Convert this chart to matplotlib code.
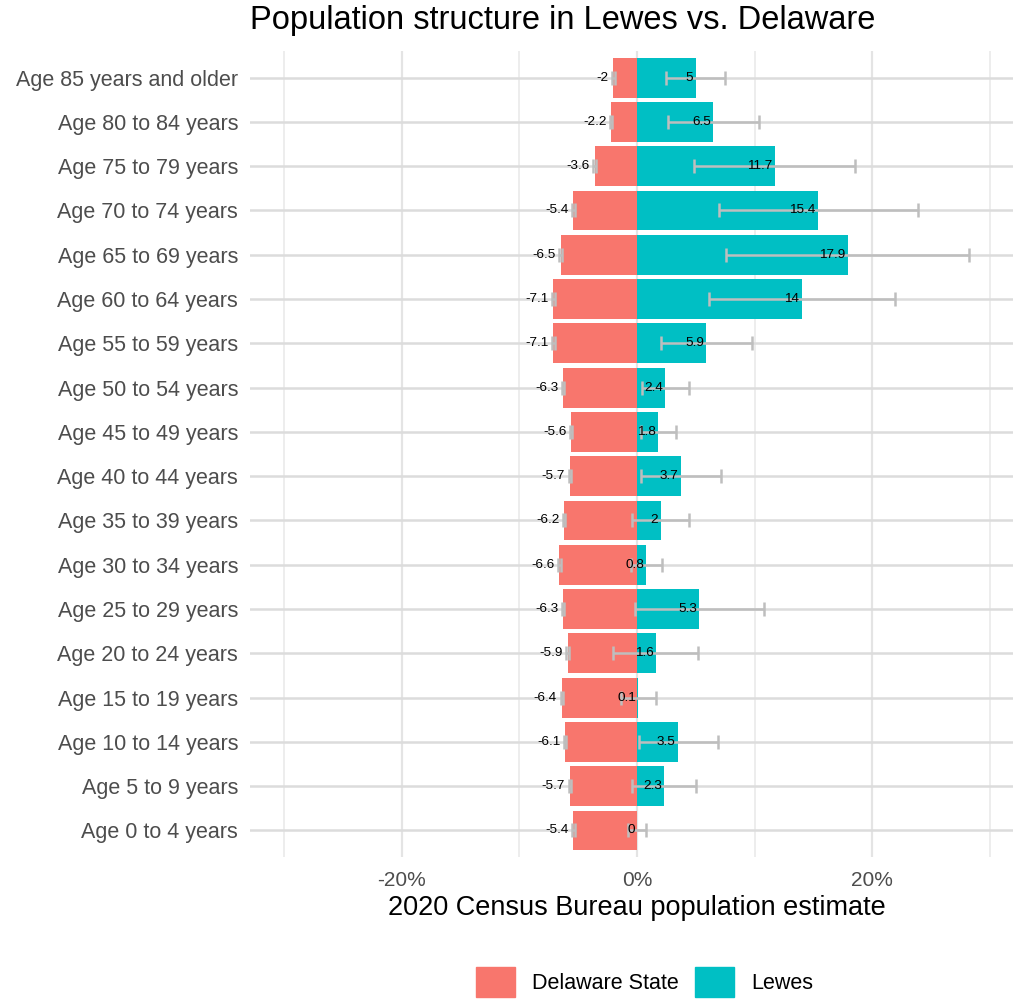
import matplotlib
matplotlib.use("Agg")
import matplotlib.pyplot as plt
from matplotlib.patches import Rectangle
import numpy as np

plt.rcParams['font.family'] = ['Liberation Sans', 'DejaVu Sans']

ages = ["Age 0 to 4 years", "Age 5 to 9 years", "Age 10 to 14 years", "Age 15 to 19 years",
        "Age 20 to 24 years", "Age 25 to 29 years", "Age 30 to 34 years", "Age 35 to 39 years",
        "Age 40 to 44 years", "Age 45 to 49 years", "Age 50 to 54 years", "Age 55 to 59 years",
        "Age 60 to 64 years", "Age 65 to 69 years", "Age 70 to 74 years", "Age 75 to 79 years",
        "Age 80 to 84 years", "Age 85 years and older"]
delaware = [-5.4, -5.7, -6.1, -6.4, -5.9, -6.3, -6.6, -6.2, -5.7, -5.6, -6.3, -7.1, -7.1,
            -6.5, -5.4, -3.6, -2.2, -2.0]
delaware_moe = [0.1] * 18
lewes = [0, 2.3, 3.5, 0.1, 1.6, 5.3, 0.8, 2, 3.7, 1.8, 2.4, 5.9, 14, 17.9, 15.4, 11.7, 6.5, 5]
lewes_moe = [0.75, 2.75, 3.35, 1.5, 3.6, 5.5, 1.3, 2.4, 3.4, 1.5, 2.0, 3.9, 7.9, 10.35,
             8.45, 6.85, 3.9, 2.5]
xticks = [-20, 0, 20]
xticklabels = ["-20%", "0%", "20%"]
minor_ticks = [-30, -10, 10, 30]
series_names = ["Delaware State", "Lewes"]
colors = ["#F8766D", "#00BFC4"]

fig = plt.figure(figsize=(10.13, 9.99), dpi=100)
# panel extends past the right edge of the image (cropped like the reference)
ax = fig.add_axes([250/1013, 1-857/999, 774/1013, (857-51)/999])

y = np.arange(len(ages))
ax.barh(y, delaware, height=0.9, color=colors[0], zorder=2)
ax.barh(y, lewes, height=0.9, color=colors[1], zorder=2)

ax.errorbar(delaware, y, xerr=delaware_moe, fmt='none', ecolor='#bebebe',
            elinewidth=1.8, capsize=5, capthick=1.8, zorder=3)
ax.errorbar(lewes, y, xerr=lewes_moe, fmt='none', ecolor='#bebebe',
            elinewidth=1.8, capsize=5, capthick=1.8, zorder=3)

for yi, v in zip(y, delaware):
    ax.text(v - 0.4, yi, f"{v:g}", ha='right', va='center', fontsize=9.7, color='black', zorder=4)
for yi, v in zip(y, lewes):
    ax.text(v - 0.2, yi, f"{v:g}", ha='right', va='center', fontsize=9.7, color='black', zorder=4)

ax.set_xlim(-32.9, 32.9)
ax.set_ylim(-0.6, len(ages) - 0.4)
ax.set_yticks(y)
ax.set_yticklabels(ages, fontsize=15.5, color='#4d4d4d')
ax.set_xticks(xticks)
ax.set_xticklabels(xticklabels, fontsize=15, color='#4d4d4d')
ax.set_xticks(minor_ticks, minor=True)
ax.tick_params(axis='both', which='both', length=0)
ax.tick_params(axis='y', pad=8.5)
ax.tick_params(axis='x', pad=10)
for s in ax.spines.values():
    s.set_visible(False)
ax.grid(True, which='major', axis='y', color='#dcdcdc', linewidth=1.8, zorder=0)
ax.grid(True, which='major', axis='x', color='#e4e4e4', linewidth=1.6, zorder=0)
ax.grid(True, which='minor', axis='x', color='#e8e8e8', linewidth=1.1, zorder=0)
ax.set_axisbelow(True)

ax.set_xlabel("2020 Census Bureau population estimate", fontsize=19.5, color='black', labelpad=4)
fig.suptitle("Population structure in Lewes vs. Delaware", fontsize=23.5, x=250/1013, ha='left',
             y=1-21/999, va='center')

handles = [Rectangle((0, 0), 1, 1, color=c) for c in colors]
fig.legend(handles, series_names, loc='center', bbox_to_anchor=(644.5/1013, 1-982/999),
           ncol=2, frameon=False, fontsize=15.5, handlelength=1.81, handleheight=1.81,
           handletextpad=0.79, columnspacing=0.74, borderpad=0)

fig.savefig("out.png", dpi=100)
